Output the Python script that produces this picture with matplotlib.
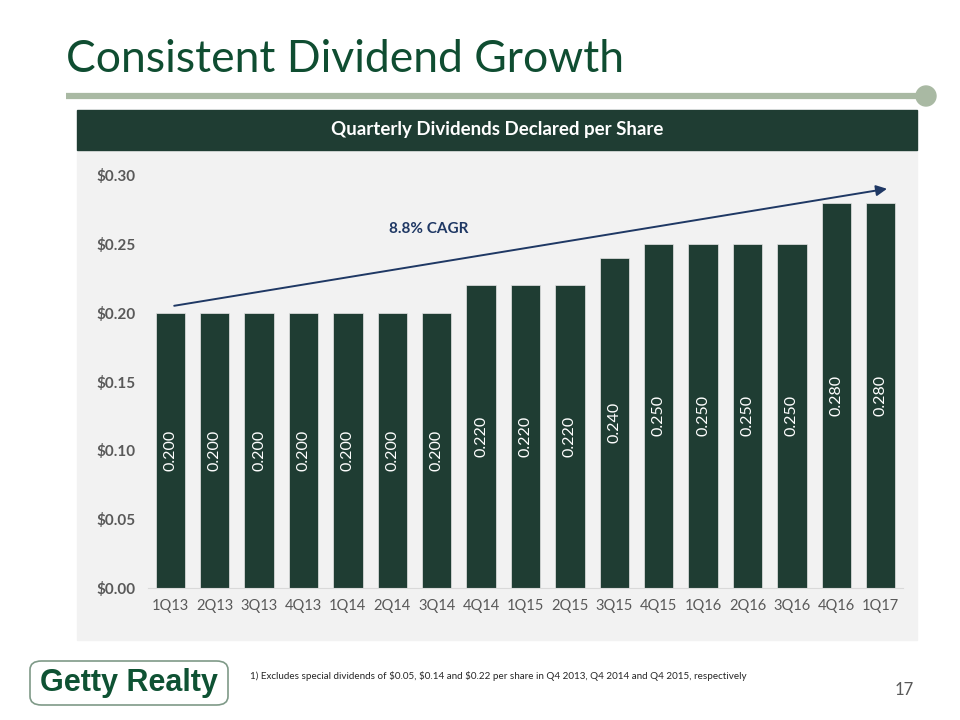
import matplotlib.pyplot as plt
from matplotlib.patches import Rectangle, Ellipse, FancyBboxPatch
from matplotlib.lines import Line2D

plt.rcParams['font.family'] = ['Lato', 'DejaVu Sans']

# Data
quarters = ['1Q13', '2Q13', '3Q13', '4Q13', '1Q14', '2Q14', '3Q14', '4Q14', '1Q15',
            '2Q15', '3Q15', '4Q15', '1Q16', '2Q16', '3Q16', '4Q16', '1Q17']
dividends = [0.200, 0.200, 0.200, 0.200, 0.200, 0.200, 0.200, 0.220, 0.220,
             0.220, 0.240, 0.250, 0.250, 0.250, 0.250, 0.280, 0.280]
yticks = [0.00, 0.05, 0.10, 0.15, 0.20, 0.25, 0.30]
cagr_label = '8.8% CAGR'

dark_green = '#1f3d33'
title_green = '#0f4d31'
navy = '#1f3864'

fig = plt.figure(figsize=(9.6, 7.2), dpi=100)

# slide decorations
fig.text(66 / 960, 1 - 60 / 720, 'Consistent Dividend Growth', fontsize=32,
         color=title_green, va='center', ha='left')
fig.add_artist(Line2D([66 / 960, 922 / 960], [1 - 96 / 720, 1 - 96 / 720],
                      color='#a9b9a3', lw=4.5, solid_capstyle='butt'))
fig.add_artist(Ellipse((926 / 960, 1 - 96 / 720), 20 / 960, 20 / 720, color='#a9b9a3',
                       transform=fig.transFigure))
fig.patches.append(Rectangle((77 / 960, 1 - 640 / 720), 840 / 960, 490 / 720,
                             transform=fig.transFigure, color='#f2f2f2', zorder=-2))
fig.patches.append(Rectangle((77 / 960, 1 - 150 / 720), 840 / 960, 40 / 720,
                             transform=fig.transFigure, color=dark_green, zorder=-1))
fig.text(497 / 960, 1 - 130 / 720, 'Quarterly Dividends Declared per Share',
         fontsize=13.5, fontweight='bold', color='white', ha='center', va='center')

# chart
ax = fig.add_axes([148 / 960, 1 - 588 / 720, 755 / 960, 413 / 720])
ax.set_facecolor('none')
x = range(len(quarters))
bars = ax.bar(x, dividends, width=0.66, color=dark_green, edgecolor='#e6e6e6', linewidth=0.5)
for xi, v in zip(x, dividends):
    ax.text(xi, v / 2, f'{v:.3f}', rotation=90, ha='center', va='center',
            color='white', fontsize=11.5)

ax.set_xlim(-0.5, len(quarters) - 0.5)
ax.set_ylim(0, 0.30)
ax.set_yticks(yticks)
ax.set_yticklabels([f'${t:.2f}' for t in yticks], fontsize=11, fontweight='bold', color='#595959')
ax.set_xticks(list(x))
ax.set_xticklabels(quarters, fontsize=10.5, color='#595959')
ax.tick_params(axis='y', length=0, pad=9)
ax.tick_params(axis='x', length=0, pad=8)
for s in ['top', 'right', 'left']:
    ax.spines[s].set_visible(False)
ax.spines['bottom'].set_color('#d9d9d9')

ax.annotate('', xy=(len(quarters) - 1 + 0.14, dividends[-1] + 0.010),
            xytext=(0.09, dividends[0] + 0.005),
            arrowprops=dict(arrowstyle='-|>', color=navy, lw=1.4, mutation_scale=16,
                            shrinkA=0, shrinkB=0))
ax.text(5.83, 0.261, cagr_label, fontsize=11, fontweight='bold', color=navy,
        ha='center', va='center')

# footer
fig.text(250 / 960, 1 - 676 / 720,
         '1) Excludes special dividends of $0.05, $0.14 and $0.22 per share in Q4 2013, Q4 2014 and Q4 2015, respectively',
         fontsize=7.1, color='#262626', ha='left', va='center')
fig.text(914 / 960, 1 - 690 / 720, '17', fontsize=12, color='#595959', ha='right', va='center')
fig.patches.append(FancyBboxPatch((30 / 960, 1 - 705 / 720), 198 / 960, 44 / 720,
                                  boxstyle='round,pad=0,rounding_size=0.012',
                                  transform=fig.transFigure, facecolor='white',
                                  edgecolor='#7f9a88', lw=1.2))
fig.text(129 / 960, 1 - 683 / 720, 'Getty Realty', fontsize=22, fontweight='bold',
         family='Liberation Sans', color='#0e5233', ha='center', va='center')

fig.savefig('out.png', dpi=100)
